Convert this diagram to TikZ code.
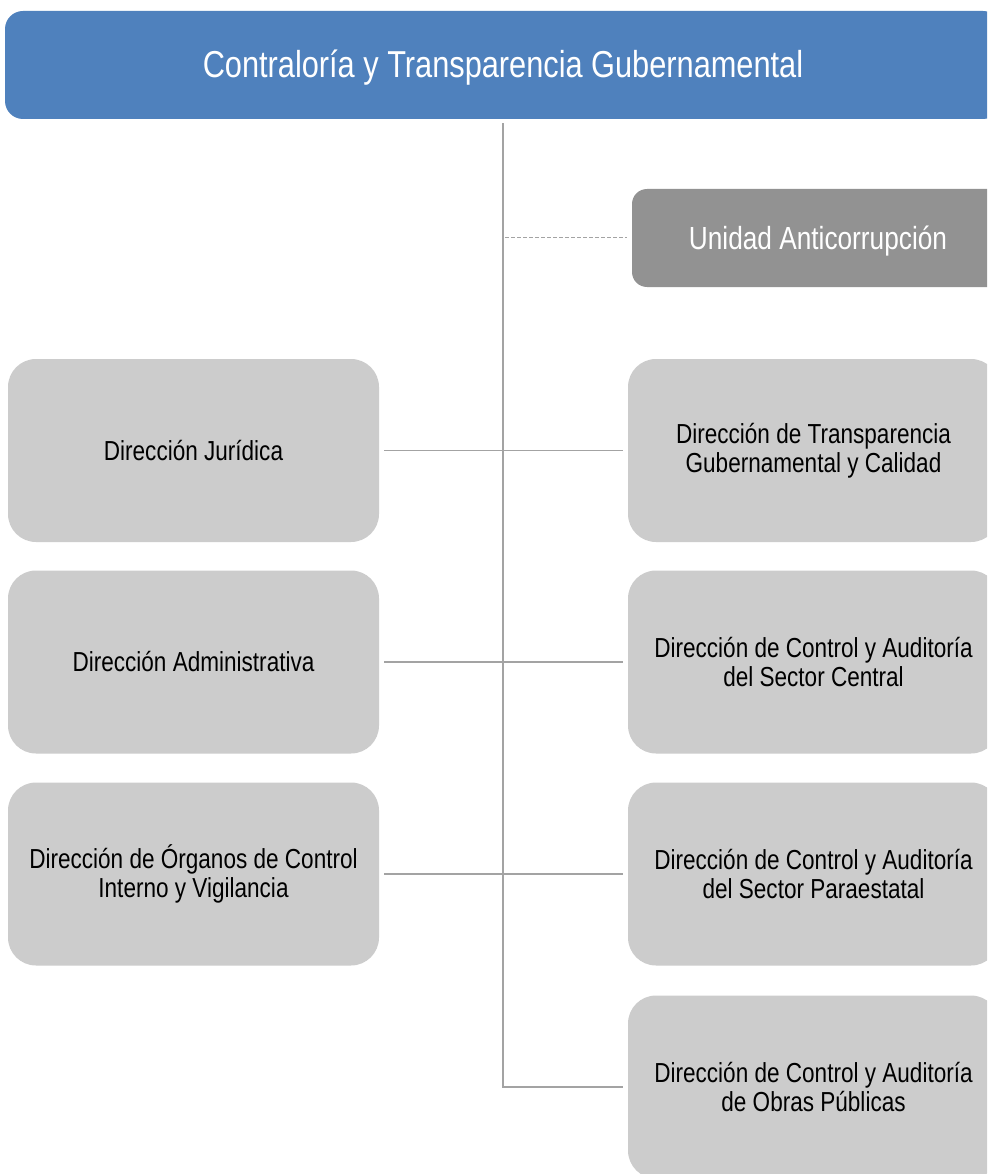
\documentclass[tikz,border=0pt]{standalone}
\usepackage{fontspec}
\setmainfont{Liberation Sans}[FakeStretch=0.82]
\definecolor{headblue}{HTML}{4F81BD}
\definecolor{unitgrey}{HTML}{929292}
\definecolor{boxgrey}{HTML}{CCCCCC}
\definecolor{linegrey}{HTML}{A3A3A3}
\tikzset{
  deptbox/.style={rectangle, rounded corners=28pt, fill=boxgrey, draw=none,
    minimum width=371pt, minimum height=183pt, align=center, text=black,
    font=\fontsize{27.5pt}{29.5pt}\selectfont, inner sep=0pt},
  headbox/.style={rectangle, rounded corners=18pt, fill=headblue, draw=none,
    minimum width=996pt, minimum height=108pt, inner sep=0pt},
  unitbox/.style={rectangle, rounded corners=15pt, fill=unitgrey, draw=none,
    minimum width=372pt, minimum height=98pt, inner sep=0pt},
  whitelabel/.style={text=white, inner sep=0pt},
  conn/.style={draw=linegrey, line width=1.6pt},
  trunkline/.style={draw=linegrey, line width=2pt},
  dashline/.style={draw=linegrey, line width=1pt, dash pattern=on 4pt off 2pt}
}
\begin{document}
\begin{tikzpicture}[x=1pt, y=-1pt]
  \useasboundingbox (0,0) rectangle (987,1174);
  \clip (0,0) rectangle (987,1174);
  \fill[white] (0,0) rectangle (987,1174);

  % head of the organisation
  \node[headbox] (top) at (503,65) {};
  \node[whitelabel, font=\fontsize{37.5pt}{42pt}\selectfont]
    (toplabel) at (503,68) {Contraloría y Transparencia Gubernamental};

  % staff unit
  \node[unitbox] (una) at (818,238) {};
  \node[whitelabel, font=\fontsize{32pt}{36pt}\selectfont]
    (unalabel) at (818,241) {Unidad Anticorrupción};

  % left column
  \node[deptbox] (jur) at (193.5,450.5) {Dirección Jurídica};
  \node[deptbox] (adm) at (193.5,662) {Dirección Administrativa};
  \node[deptbox] (org) at (193.5,874) {Dirección de Órganos de Control\\Interno y Vigilancia};

  % right column
  \node[deptbox] (tra) at (813.5,450.5) {Dirección de Transparencia\\Gubernamental y Calidad};
  \node[deptbox] (cen) at (813.5,662) {Dirección de Control y Auditoría\\del Sector Central};
  \node[deptbox] (par) at (813.5,874) {Dirección de Control y Auditoría\\del Sector Paraestatal};
  \node[deptbox] (obr) at (813.5,1087) {Dirección de Control y Auditoría\\de Obras Públicas};

  % trunk line down to the last directorate
  \draw[trunkline, shorten <=4pt, shorten >=5pt] (top.south) |- (obr.west);

  % dashed link to the staff unit
  \draw[dashline, shorten <=2pt, shorten >=5pt] (top.south |- una.west) -- (una.west);

  % links between paired directorates across the trunk
  \draw[conn, shorten <=5pt, shorten >=5pt] (jur.east) -- (tra.west);
  \draw[conn, shorten <=5pt, shorten >=5pt] (adm.east) -- (cen.west);
  \draw[conn, shorten <=5pt, shorten >=5pt] (org.east) -- (par.west);
\end{tikzpicture}
\end{document}
